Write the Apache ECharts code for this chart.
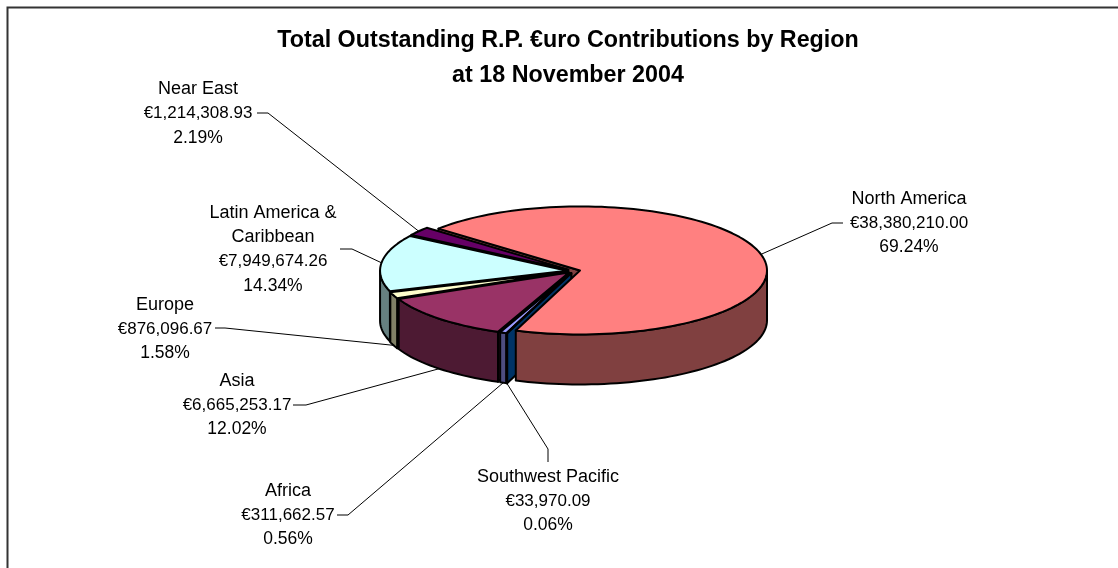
<!DOCTYPE html>
<html lang="en">
<head>
    <meta charset="UTF-8">
    <script src="https://cdn.jsdelivr.net/npm/echarts@6/dist/echarts.min.js"></script>
    <style>
        html, body { margin: 0; padding: 0; background: #fff; }
        #chart { width: 1118px; height: 568px; }
    </style>
</head>
<body>
<div id="chart"></div>
<script>
    // values as printed on the chart, clockwise from the first slice
    var regions = ['Africa', 'Asia', 'Europe', 'Latin America &\nCaribbean', 'Near East', 'North America', 'Southwest Pacific'];
    var amounts = [311662.57, 6665253.17, 876096.67, 7949674.26, 1214308.93, 38380210.00, 33970.09];
    var shares = ['0.56%', '12.02%', '1.58%', '14.34%', '2.19%', '69.24%', '0.06%'];
    var colors = ['#9999FF', '#993366', '#FFFFCC', '#CCFFFF', '#660066', '#FF8080', '#0066CC'];
    var titleLines = ['Total Outstanding R.P. €uro Contributions by Region', 'at 18 November 2004'];

    // back to front
    var paintOrder = [4, 3, 2, 1, 0, 6, 5];

    // the tilted pie: centre, radii, wall height, explosion, first slice angle
    var pie = { cx: 573.6, cy: 271, rx: 187, ry: 64, depth: 50, explode: 6.6, first: 200.3 };

    // label centre and the elbow of each leader line
    var labelBoxes = [
        { x: 288, y: 515, elbow: [[337, 515], [348, 515]] },
        { x: 237, y: 405, elbow: [[293, 405], [306, 405]] },
        { x: 165, y: 329, elbow: [[215, 328], [225, 328]] },
        { x: 273, y: 249.5, elbow: [[340, 249], [352, 249]] },
        { x: 198, y: 113.5, elbow: [[257, 113], [268, 113]] },
        { x: 909, y: 223, elbow: [[843, 223], [832, 223]] },
        { x: 548, y: 501, elbow: [[548, 462], [548, 449]] }
    ];

    var total = amounts.reduce(function (a, b) { return a + b; }, 0);
    var slices = [];
    var angle = pie.first;
    amounts.forEach(function (v) {
        var span = v / total * 360;
        slices.push({ a: angle, b: angle + span });
        angle += span;
    });

    function rad(d) { return d * Math.PI / 180; }

    // angles run clockwise from the top of the pie
    function centreOf(s) {
        var m = rad((s.a + s.b) / 2);
        return [pie.cx + pie.explode * Math.sin(m), pie.cy - pie.explode * pie.ry / pie.rx * Math.cos(m)];
    }
    function rim(c, d) {
        return [c[0] + pie.rx * Math.sin(rad(d)), c[1] - pie.ry * Math.cos(rad(d))];
    }
    function arc(c, from, to) {
        var pts = [];
        var n = Math.max(2, Math.ceil(Math.abs(to - from) / 2));
        for (var i = 0; i <= n; i++) {
            pts.push(rim(c, from + (to - from) * i / n));
        }
        return pts;
    }
    function down(p) { return [p[0], p[1] + pie.depth]; }

    // walls are the slice colour at half brightness
    function wallColor(hex) {
        var rgb = echarts.color.parse(hex);
        return 'rgb(' + Math.round(rgb[0] / 2) + ',' + Math.round(rgb[1] / 2) + ',' + Math.round(rgb[2] / 2) + ')';
    }

    function poly(points, fill, z2) {
        return {
            type: 'polygon',
            z2: z2,
            shape: { points: points },
            style: { fill: fill, stroke: '#000', lineWidth: 2, lineJoin: 'round' }
        };
    }

    function renderSlice(params, api) {
        var idx = api.value(0);
        var s = slices[idx];
        var c = centreOf(s);
        var rank = 10 + paintOrder.indexOf(idx) * 4;
        var dark = wallColor(colors[idx]);
        var kids = [];
        var bottom = down(c);

        // cut faces that look towards the viewer
        if (Math.sin(rad(s.a)) < 0) {
            var p = rim(c, s.a);
            // the big slice's cut face sits behind all the others
            kids.push(poly([c, p, down(p), bottom], dark, idx === 5 ? 1 : rank));
        }
        if (Math.sin(rad(s.b)) > 0) {
            var q = rim(c, s.b);
            kids.push(poly([c, q, down(q), bottom], dark, rank));
        }

        // outer wall, only the part between 90 and 270 degrees faces us
        [0, 360].forEach(function (turn) {
            var from = Math.max(s.a, 90 + turn);
            var to = Math.min(s.b, 270 + turn);
            if (to > from) {
                var edge = arc(c, from, to);
                kids.push(poly(edge.concat(edge.map(down).reverse()), dark, rank + 1));
            }
        });

        // top
        kids.push(poly([c].concat(arc(c, s.a, s.b)), colors[idx], rank + 2));
        return { type: 'group', children: kids };
    }

    function renderLabel(params, api) {
        var idx = api.value(0);
        var s = slices[idx];
        var box = labelBoxes[idx];
        var mid = (s.a + s.b) / 2;
        var end = rim(centreOf(s), mid);
        // slices at the front are pointed at from under their wall
        if (Math.cos(rad(mid)) < -0.3) {
            end = down(end);
        }
        var amount = '€' + amounts[idx].toLocaleString('en-US', {
            minimumFractionDigits: 2, maximumFractionDigits: 2
        });
        var lines = regions[idx].split('\n').map(function (n) { return '{n|' + n + '}'; });
        lines.push('{a|' + amount + '}', '{p|' + shares[idx] + '}');
        return {
            type: 'group',
            children: [
                {
                    type: 'polyline',
                    z2: 100,
                    shape: { points: box.elbow.concat([end]) },
                    style: { fill: null, stroke: '#000', lineWidth: 1 }
                },
                {
                    type: 'text',
                    z2: 100,
                    style: {
                        x: box.x,
                        y: box.y,
                        text: lines.join('\n'),
                        align: 'center',
                        verticalAlign: 'middle',
                        fill: '#000',
                        rich: {
                            n: { font: '18px "Liberation Sans", Arial, sans-serif', lineHeight: 24.4, fill: '#000' },
                            a: { font: '17px "Liberation Sans", Arial, sans-serif', lineHeight: 24.4, fill: '#000' },
                            p: { font: '17.5px "Liberation Sans", Arial, sans-serif', lineHeight: 24.4, fill: '#000' }
                        }
                    }
                }
            ]
        };
    }

    var chart = echarts.init(document.getElementById('chart'));
    var rows = regions.map(function (r, i) { return [i, amounts[i]]; });

    chart.setOption({
        animation: false,
        backgroundColor: '#fff',
        title: {
            text: titleLines.join('\n'),
            left: 563,
            top: 18,
            textAlign: 'center',
            textStyle: {
                fontFamily: '"Liberation Sans", Arial, sans-serif',
                fontWeight: 'bold',
                fontSize: 23.3,
                lineHeight: 35,
                color: '#000'
            }
        },
        graphic: [
            {
                type: 'polyline',
                shape: { points: [[7.5, 568], [7.5, 7.5], [1118, 7.5]] },
                style: { fill: null, stroke: '#333', lineWidth: 2 }
            }
        ],
        series: [
            { type: 'custom', coordinateSystem: 'none', renderItem: renderSlice, data: rows, silent: true },
            { type: 'custom', coordinateSystem: 'none', renderItem: renderLabel, data: rows, silent: true }
        ]
    });
</script>
</body>
</html>
